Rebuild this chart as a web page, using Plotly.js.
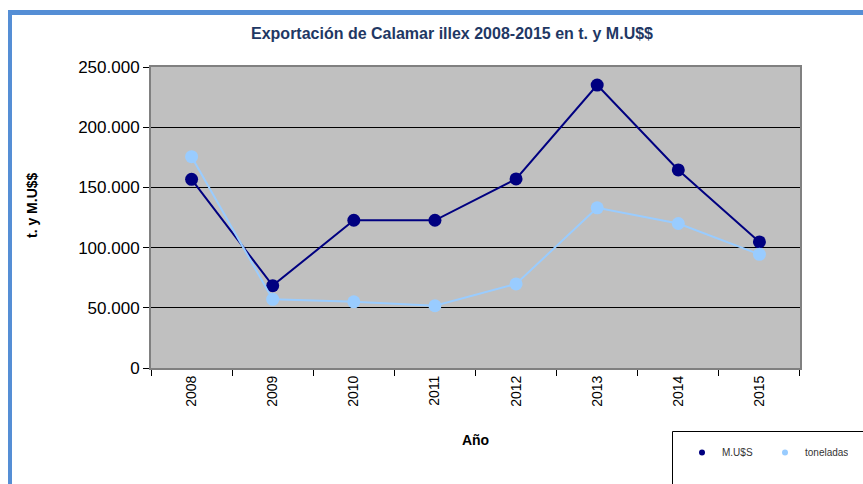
<!DOCTYPE html>
<html>
<head>
<meta charset="utf-8">
<script src="https://cdn.plot.ly/plotly-3.0.1.min.js"></script>
<style>html,body{margin:0;padding:0;background:#fff;}#chart{width:863px;height:484px;}</style>
</head>
<body>
<div id="chart"></div>
<script>
const years = ['2008','2009','2010','2011','2012','2013','2014','2015'];
const musd = [156700, 68400, 122700, 122700, 157000, 235000, 164500, 104700];
const toneladas = [175500, 57000, 55000, 51700, 69800, 133000, 120000, 94400];
const seriesNames = ['M.U$S', 'toneladas'];
const yTicks = [0, 50000, 100000, 150000, 200000, 250000];

const L = 151, R = 800, T = 67, B = 368;
const W = R - L, H = B - T;
const px = x => (x - L) / W;
const py = y => (B - y) / H;

const navy = '#000080';
const light = '#99CCFF';

const traces = [
  {x: years, y: musd, type: 'scatter', mode: 'lines+markers', name: seriesNames[0], showlegend: false,
   line: {color: navy, width: 2}, marker: {color: navy, size: 13}, cliponaxis: false},
  {x: years, y: toneladas, type: 'scatter', mode: 'lines+markers', name: seriesNames[1], showlegend: false,
   line: {color: light, width: 2}, marker: {color: light, size: 13}, cliponaxis: false},
  {x: [null], y: [null], type: 'scatter', mode: 'markers', name: seriesNames[0], marker: {color: navy, size: 6}},
  {x: [null], y: [null], type: 'scatter', mode: 'markers', name: seriesNames[1], marker: {color: light, size: 6}}
];

const layout = {
  width: 863, height: 484,
  margin: {l: L, r: 863 - R, t: T, b: 484 - B, pad: 0},
  paper_bgcolor: '#ffffff',
  plot_bgcolor: '#C0C0C0',
  separators: ',.',
  font: {family: 'Arial, "Liberation Sans", sans-serif', color: '#000'},
  showlegend: true,
  legend: {
    orientation: 'h', x: px(682), y: py(438), xanchor: 'left', yanchor: 'top',
    bgcolor: 'rgba(0,0,0,0)', borderwidth: 0,
    font: {size: 10, color: '#333'}, itemwidth: 30, entrywidth: 38, entrywidthmode: 'pixels'
  },
  title: {
    text: 'Exportación de Calamar illex 2008-2015 en t. y M.U$$',
    font: {size: 16, color: '#1F3864', family: 'Arial, "Liberation Sans", sans-serif', weight: 'bold'},
    x: px(452), xanchor: 'center', xref: 'paper', y: 1 - 33/484, yanchor: 'middle'
  },
  xaxis: {
    type: 'category',
    showgrid: false,
    showline: true, linecolor: '#808080', linewidth: 2, mirror: true,
    ticks: 'outside', tickson: 'boundaries', ticklen: 6, tickcolor: '#000', tickwidth: 1,
    tickangle: -90, tickfont: {size: 14, color: '#000'},
    title: {text: 'Año', font: {size: 14, weight: 'bold', color: '#000'}, standoff: 29},
    automargin: false
  },
  yaxis: {
    range: [0, 250000],
    tickvals: yTicks, tickformat: ',d',
    showgrid: true, gridcolor: '#000000', gridwidth: 1,
    showline: true, linecolor: '#808080', linewidth: 2, mirror: true,
    zeroline: false,
    ticks: 'outside', ticklen: 6, tickcolor: '#000', tickwidth: 1,
    tickfont: {size: 17, color: '#000'},
    automargin: false
  },
  annotations: [
    {text: '<b>t. y M.U$$</b>', xref: 'paper', yref: 'paper', x: px(32), y: py(205),
     textangle: -90, showarrow: false, font: {size: 14, color: '#000'}, xanchor: 'center', yanchor: 'middle'}
  ],
  shapes: [
    {type: 'line', xref: 'paper', yref: 'paper', x0: px(10), x1: px(10), y0: py(10), y1: py(500),
     line: {color: '#558ED5', width: 4}},
    {type: 'line', xref: 'paper', yref: 'paper', x0: px(8), x1: px(880), y0: py(12.5), y1: py(12.5),
     line: {color: '#558ED5', width: 5}},
    {type: 'rect', xref: 'paper', yref: 'paper', x0: px(672.5), x1: px(900), y0: py(431.5), y1: py(520),
     line: {color: '#000000', width: 1}, fillcolor: 'rgba(0,0,0,0)'}
  ]
};

Plotly.newPlot('chart', traces, layout, {displayModeBar: false, staticPlot: true});
</script>
</body>
</html>
